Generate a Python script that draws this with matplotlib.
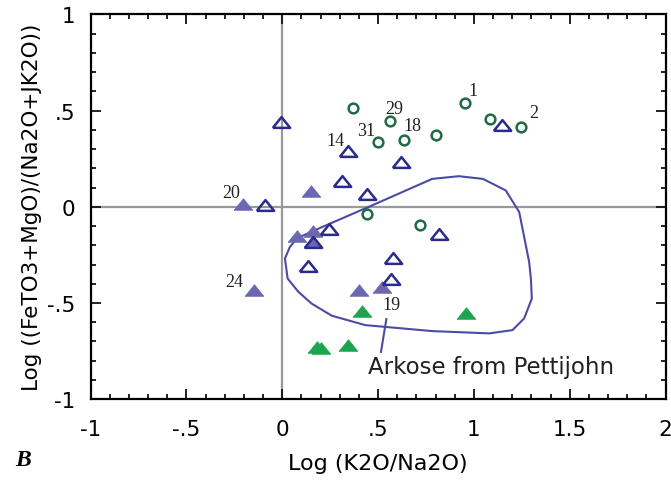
import matplotlib
matplotlib.use("Agg")
import matplotlib.pyplot as plt
from matplotlib.ticker import MultipleLocator, FixedLocator, FixedFormatter

# open green circles
circ_x = [0.367, 0.564, 0.497, 0.635, 0.801, 0.953, 1.082, 1.248, 0.441, 0.719]
circ_y = [0.511, 0.444, 0.335, 0.347, 0.375, 0.539, 0.458, 0.417, -0.040, -0.097]

# open navy triangles
otri_x = [-0.007, 1.148, 0.342, 0.619, 0.314, 0.441, -0.091, 0.246, 0.817, 0.161, 0.578, 0.136, 0.569]
otri_y = [0.439, 0.425, 0.289, 0.232, 0.136, 0.067, 0.010, -0.114, -0.140, -0.183, -0.266, -0.307, -0.373]

# filled purple triangles
ptri_x = [-0.204, 0.148, 0.075, 0.162, 0.162, -0.147, 0.400, 0.522]
ptri_y = [0.014, 0.081, -0.152, -0.128, -0.183, -0.430, -0.430, -0.416]

# filled green triangles
gtri_x = [0.414, 0.956, 0.183, 0.200, 0.342]
gtri_y = [-0.542, -0.554, -0.727, -0.735, -0.718]

# sample labels
lab_text = ["1", "2", "29", "31", "18", "14", "20", "24", "19"]
lab_x = [0.995, 1.311, 0.585, 0.438, 0.677, 0.276, -0.265, -0.248, 0.569]
lab_y = [0.603, 0.490, 0.513, 0.395, 0.421, 0.344, 0.076, -0.387, -0.508]

# Arkose field (Pettijohn)
ark_x = [0.080, 0.188, 0.468, 0.782, 0.921, 1.047, 1.166, 1.236, 1.288, 1.297, 1.302,
         1.262, 1.201, 1.079, 0.782, 0.433, 0.258, 0.153, 0.084, 0.028, 0.014, 0.040, 0.080]
ark_y = [-0.162, -0.114, 0.007, 0.145, 0.159, 0.145, 0.085, -0.027, -0.287, -0.373, -0.477,
         -0.580, -0.641, -0.658, -0.646, -0.615, -0.566, -0.503, -0.442, -0.373, -0.269, -0.208, -0.162]

navy = "#2b2b8e"
purple = "#6b67b3"
dgreen = "#1e6b45"
green = "#1ca44e"
field = "#4b4ba6"

# flattened triangle, like the original plotting program draws them
tri = [(-1, -0.62), (1, -0.62), (0, 0.62), (-1, -0.62)]

fig = plt.figure(figsize=(6.71, 4.81), dpi=100)
ax = fig.add_axes([0.135, 0.168, 0.857, 0.800])

ax.axhline(0, color="#999999", lw=1.6, zorder=1)
ax.axvline(0, color="#999999", lw=1.6, zorder=1)

ax.plot(ark_x, ark_y, color=field, lw=1.5, zorder=2)
ax.plot([0.543, 0.515], [-0.584, -0.754], color=field, lw=1.5, zorder=2)
ax.text(0.445, -0.829, "Arkose from Pettijohn", fontsize=16.5, va="center", ha="left",
        color="#222222")

ax.plot(ptri_x, ptri_y, marker=tri, ms=13.5, color=purple, mec=purple, mew=0.5, ls="none", zorder=3)
ax.plot(gtri_x, gtri_y, marker=tri, ms=13.5, color=green, mec=green, mew=0.5, ls="none", zorder=3)
ax.plot(otri_x, otri_y, marker=tri, ms=12.5, mfc="none", mec=navy, mew=1.8, ls="none", zorder=4)
ax.plot(circ_x, circ_y, "o", ms=7, mfc="none", mec=dgreen, mew=1.8, ls="none", zorder=4)

for t, x, y in zip(lab_text, lab_x, lab_y):
    ax.text(x, y, t, fontsize=13, family="Liberation Serif", ha="center", va="center", color="#222222")

ax.set_xlim(-1, 2)
ax.set_ylim(-1, 1)
ax.xaxis.set_major_locator(FixedLocator([-1, -0.5, 0, 0.5, 1, 1.5, 2]))
ax.xaxis.set_major_formatter(FixedFormatter(["-1", "-.5", "0", ".5", "1", "1.5", "2"]))
ax.yaxis.set_major_locator(FixedLocator([-1, -0.5, 0, 0.5, 1]))
ax.yaxis.set_major_formatter(FixedFormatter(["-1", "-.5", "0", ".5", "1"]))
ax.xaxis.set_minor_locator(MultipleLocator(0.1))
ax.yaxis.set_minor_locator(MultipleLocator(0.1))
ax.tick_params(which="both", direction="in", top=True, right=True, width=1.3, labelsize=15.5,
               color="#111111")
ax.tick_params(axis="x", pad=14)
ax.tick_params(axis="y", pad=11)
ax.tick_params(which="major", length=7)
ax.tick_params(which="minor", length=3.6)
for s in ax.spines.values():
    s.set_linewidth(1.6)

ax.set_xlabel("Log (K2O/Na2O)", fontsize=16, labelpad=10)
ax.set_ylabel("Log ((FeTO3+MgO)/(Na2O+JK2O))", fontsize=15.5, labelpad=4)

fig.text(23 / 671, 1 - 461 / 481, "B", fontsize=17, family="Liberation Serif", weight="bold",
         style="italic", ha="center", va="center")

fig.savefig("out.png", dpi=100)
